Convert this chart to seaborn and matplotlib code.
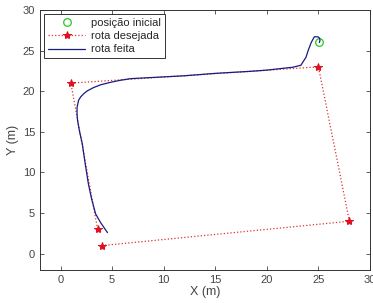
import numpy as np
import pandas as pd
import matplotlib
matplotlib.use("Agg")
import matplotlib.pyplot as plt
import seaborn as sns

sns.set_style("ticks")
plt.rcParams['font.family'] = ['Liberation Sans', 'DejaVu Sans']

# Initial position
start_x = [25.05]
start_y = [26.0]

# Desired route (waypoints)
route_x = [4.0, 28.0, 25.0, 1.0, 3.6]
route_y = [1.0, 4.0, 23.0, 21.0, 3.0]

# Route actually driven
done_x = [25.1, 25.15, 25.1, 24.95, 24.6, 24.3, 24.0, 23.8, 23.5, 23.3, 22.5,
          21.4, 20.0, 18.4, 15.0, 12.0, 9.0, 6.8, 5.8, 4.85, 3.9, 3.2, 2.6,
          2.25, 1.95, 1.75, 1.6, 1.6, 1.65, 1.85, 2.1, 2.4, 2.7, 3.0,
          3.4, 3.9, 4.55]
done_y = [26.0, 26.3, 26.55, 26.7, 26.7, 26.0, 25.0, 24.2, 23.6, 23.2, 22.95,
          22.8, 22.6, 22.45, 22.2, 21.9, 21.7, 21.55, 21.35, 21.1, 20.8, 20.45, 20.05,
          19.7, 19.3, 18.9, 18.0, 17.2, 16.4, 15.0, 13.6, 11.0, 8.6, 6.8,
          4.9, 3.8, 2.6]

df_route = pd.DataFrame({'x': route_x, 'y': route_y})
df_done = pd.DataFrame({'x': done_x, 'y': done_y})

fig = plt.figure(figsize=(3.73, 3.03), dpi=100)
ax = fig.add_axes([0.107, 0.109, 0.885, 0.858])

ax.plot(start_x, start_y, 'o', mfc='none', mec='#22cc22', ms=5.5, mew=0.9,
        label='posição inicial')
sns.lineplot(data=df_route, x='x', y='y', sort=False, estimator=None, ax=ax,
             color='#e03030', linestyle=':', linewidth=0.9, marker='*',
             markersize=6, markerfacecolor='#e01020', markeredgecolor='#e01020',
             label='rota desejada')
sns.lineplot(data=df_done, x='x', y='y', sort=False, estimator=None, ax=ax,
             color='#1a1a80', linewidth=0.9, label='rota feita')

ax.set_xlim(-2, 30)
ax.set_ylim(-2, 30)
ax.set_xticks(range(0, 31, 5))
ax.set_yticks(range(0, 31, 5))
ax.tick_params(direction='in', length=3, labelsize=8, colors='#444444',
               top=True, right=True, width=0.6)
for s in ax.spines.values():
    s.set_linewidth(0.7)
    s.set_color('#333333')
ax.set_xlabel('X (m)', fontsize=9, color='#444444', labelpad=1)
ax.set_ylabel('Y (m)', fontsize=9, color='#444444', labelpad=3)

leg = ax.legend(loc='upper left', fontsize=8, frameon=True, fancybox=False,
                edgecolor='black', borderpad=0.35, labelspacing=0.3,
                handlelength=3.4, handletextpad=0.5, borderaxespad=0.35)
leg.get_frame().set_linewidth(0.7)

fig.savefig('out.png', dpi=100)
